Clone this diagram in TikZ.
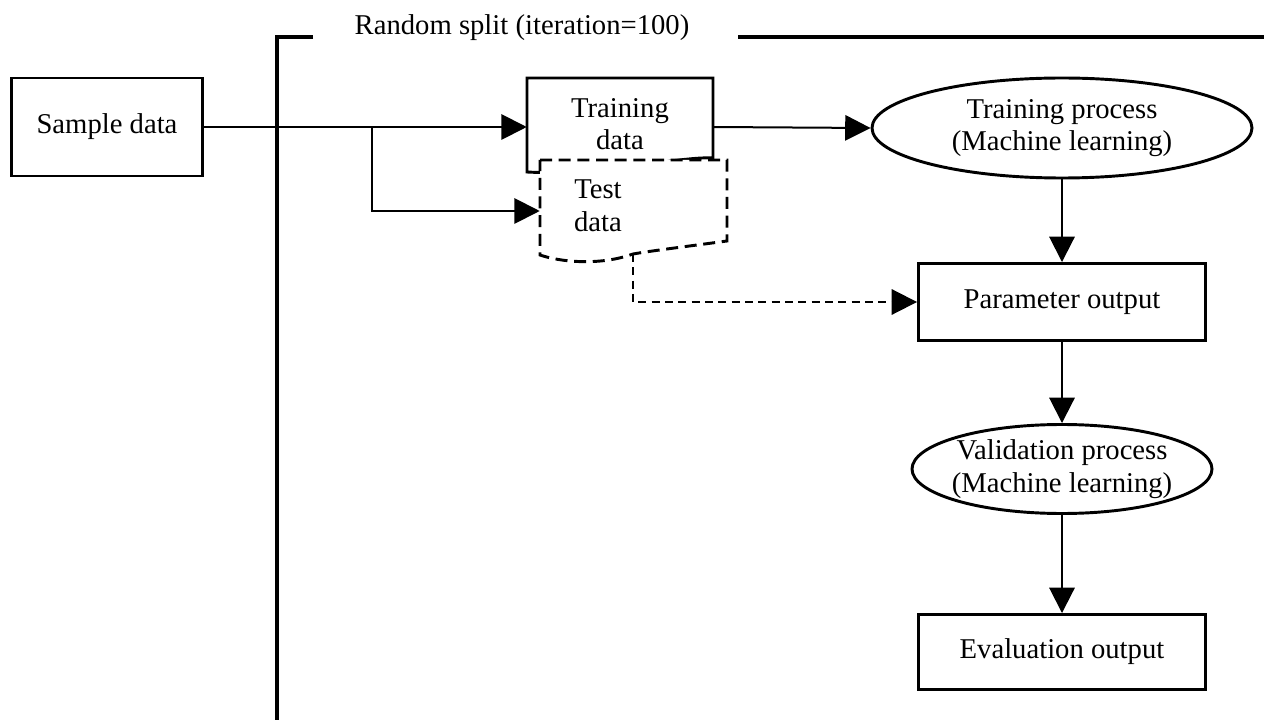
\documentclass[tikz,border=0pt]{standalone}
\usepackage{fontspec}
\setmainfont{Liberation Serif}
\usetikzlibrary{arrows.meta,shapes.geometric}

\tikzset{
  flecha/.style={line width=1.5pt, -{Triangle[length=19pt,width=19pt]}},
  caja/.style={draw, line width=2.2pt, rectangle, align=center},
  proceso/.style={draw, line width=2.2pt, ellipse, inner sep=0pt, align=center},
  documento/.style={rectangle, inner sep=0pt, align=center},
  texto/.style={align=center},
}

\begin{document}
\begin{tikzpicture}[x=0.75pt, y=-0.75pt, font=\fontsize{21.5}{24.5}\selectfont]
	\useasboundingbox (0,0) rectangle (1264,720);

	% Marco del bucle
	\draw[line width=2.4pt] (313,37) -- (277,37) -- (277,720);
	\draw[line width=2.4pt] (738,37) -- (1264,37);
	\node (titulo) at (522,28) {Random split (iteration=100)};

	% Nodos
	\node[caja, minimum width=191*0.75pt, minimum height=98*0.75pt] (muestra) at (107,127) {Sample data};
	\node[documento, minimum width=186*0.75pt, minimum height=98*0.75pt] (entreno) at (620,127) {};
	\node[documento, minimum width=187*0.75pt, minimum height=102*0.75pt] (prueba) at (633.5,211) {};
	\node[proceso, minimum width=380*0.75pt, minimum height=100*0.75pt] (proc) at (1062,128) {Training process\\(Machine learning)};
	\node[caja, minimum width=287*0.75pt, minimum height=77*0.75pt] (param) at (1062,302) {Parameter output};
	\node[proceso, inner xsep=-4pt, minimum width=300*0.75pt, minimum height=89*0.75pt] (valid) at (1062,469) {Validation process\\(Machine learning)};
	\node[caja, minimum width=287*0.75pt, minimum height=75*0.75pt] (eval) at (1062,652) {Evaluation output};

	% Documentos (datos de entrenamiento y de prueba)
	\draw[line width=2.2pt, fill=white] (527,78) -- (713,78) -- (713,158)
		.. controls (680,156) and (600,176) .. (527,172) -- cycle;
	\node[texto] (txtentreno) at (620,124) {Training\\data};
	\draw[line width=2.2pt, dashed, dash pattern=on 9pt off 5pt, fill=white] (540,160) -- (727,160) -- (727,241)
		.. controls (690,246) and (650,251) .. (633,254)
		.. controls (600,266) and (560,262) .. (540,255) -- cycle;
	\node[texto] (txtprueba) at (598,206) {Test\\data};

	% Conectores
	\coordinate (division) at (372,127);
	\coordinate (caida) at (633,254);
	\draw[flecha] (muestra.east) -- (entreno.west);
	\draw[flecha] (division) |- (prueba.west);
	\draw[flecha] (entreno.east) -- (proc.west);
	\draw[flecha] (proc.south) -- (param.north);
	\draw[flecha, dashed, dash pattern=on 6pt off 4pt] (caida) |- (param.west);
	\draw[flecha] (param.south) -- (valid.north);
	\draw[flecha] (valid.south) -- (eval.north);
\end{tikzpicture}
\end{document}
